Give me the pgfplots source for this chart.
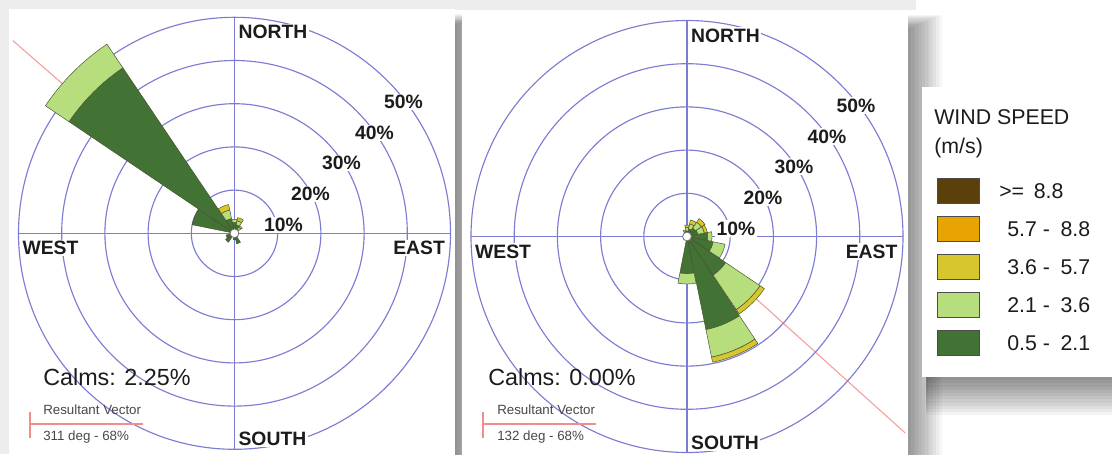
\documentclass[border=0pt]{standalone}
\usepackage{fontspec}
\setmainfont{Liberation Sans}
\usepackage{pgfplots}
\pgfplotsset{compat=1.18}
\usepgfplotslibrary{polar}
\usepackage{pgfplotstable}

\definecolor{ringblue}{RGB}{124,124,210}
\definecolor{wsA}{RGB}{66,114,52}    % 0.5 - 2.1 m/s
\definecolor{wsB}{RGB}{182,222,124}  % 2.1 - 3.6 m/s
\definecolor{wsC}{RGB}{216,198,46}   % 3.6 - 5.7 m/s
\definecolor{wsD}{RGB}{232,164,0}    % 5.7 - 8.8 m/s
\definecolor{wsE}{RGB}{92,64,12}     % >= 8.8 m/s
\definecolor{segline}{RGB}{70,80,45}
\definecolor{vecred}{RGB}{238,92,92}
\definecolor{txtdark}{RGB}{28,28,28}
\definecolor{txtgray}{RGB}{72,72,72}

% frequency of each speed class (%) per direction (degrees from north)
\pgfplotstableread{
dir    c1    c2    c3    c4   c5
0      2.5   0.8   0.0   0    0
22.5   2.0   1.0   0.7   0    0
45     1.2   0.6   0.4   0    0
157.5  2.5   0.0   0.0   0    0
180    1.5   0.0   0.0   0    0
225    2.5   0.0   0.0   0    0
247.5  2.0   0.0   0.0   0    0
292.5  10.0  0.0   0.0   0    0
315    46.2  6.6   0.0   0    0
337.5  3.5   2.0   1.3   0    0
}\roseleft

\pgfplotstableread{
dir    c1    c2    c3    c4   c5
0      1.3   0.8   0.6   0    0
22.5   1.8   1.2   0.9   0    0
45     2.4   1.6   1.0   0    0
67.5   2.6   1.5   0.7   0    0
90     4.8   1.0   0.0   0    0
112.5  6.2   2.8   0.0   0    0
135    10.8  9.6   1.2   0    0
157.5  22.0  6.5   1.2   0    0
180    8.6   2.4   0.0   0    0
337.5  1.2   0.4   0.0   0    0
}\roseright

\pgfdeclareplotmark{blank}{}

% radius of 1 % on the rose in pt (the 50 % ring has a radius of 162pt)
\newcommand\roseunit{3.24}
\newcommand\halfsector{11}

% annular sector of one speed class, drawn around the centre of the rose
\newcommand\rosesegment[1]{%
  \pgfmathsetmacro\thA{90-\segdir-\halfsector}%
  \pgfmathsetmacro\thB{90-\segdir+\halfsector}%
  \pgfmathsetmacro\rI{\seglo*\roseunit}%
  \pgfmathsetmacro\rO{\seghi*\roseunit}%
  \ifdim\dimexpr\rO pt-\rI pt\relax>0.05pt
    \ifdim\rI pt<0.05pt
      \path[fill=#1, draw=segline, line width=0.35pt, line join=round]
        (0pt,0pt) -- (\thA:\rO pt)
        arc[start angle=\thA, end angle=\thB, radius=\rO pt] -- cycle;
    \else
      \path[fill=#1, draw=segline, line width=0.35pt, line join=round]
        (\thA:\rI pt) -- (\thA:\rO pt)
        arc[start angle=\thA, end angle=\thB, radius=\rO pt]
        -- (\thB:\rI pt)
        arc[start angle=\thB, end angle=\thA, radius=\rI pt] -- cycle;
    \fi
  \fi
}

\pgfplotsset{
  rose segment/.style n args={3}{
    scatter, only marks, mark=blank,
    point meta=\thisrow{dir},
    visualization depends on={\thisrow{dir} \as \segdir},
    visualization depends on={#2 \as \seglo},
    visualization depends on={#3 \as \seghi},
    scatter/@pre marker code/.code={\rosesegment{#1}},
    scatter/@post marker code/.code={},
  },
  rose axis/.style={
    scale only axis, width=324pt, height=324pt, anchor=center,
    xmin=0, xmax=360, ymin=0, ymax=50,
    xtick={0,90,180,270}, ytick={10,20,30,40},
    xticklabels={}, yticklabels={},
    major tick length=0pt,
    xmajorgrids, ymajorgrids,
    major grid style={ringblue, line width=0.85pt},
    axis line style={ringblue, line width=0.85pt},
    clip=false,
  },
  vector/.style={vecred, line width=0.8pt, opacity=0.6,
    x filter/.expression={mod(450-x,360)}},
  calm circle/.style={only marks, mark=*, mark size=3.3pt,
    mark options={fill=white, draw=black!55, line width=0.6pt}},
}

\newcommand\allclasses[1]{%
  \addplot[rose segment={wsA}{0}{\thisrow{c1}}] table[x=dir, y expr=0] {#1};
  \addplot[rose segment={wsB}{\thisrow{c1}}{\thisrow{c1}+\thisrow{c2}}] table[x=dir, y expr=0] {#1};
  \addplot[rose segment={wsC}{\thisrow{c1}+\thisrow{c2}}{\thisrow{c1}+\thisrow{c2}+\thisrow{c3}}] table[x=dir, y expr=0] {#1};
  \addplot[rose segment={wsD}{\thisrow{c1}+\thisrow{c2}+\thisrow{c3}}{\thisrow{c1}+\thisrow{c2}+\thisrow{c3}+\thisrow{c4}}] table[x=dir, y expr=0] {#1};
  \addplot[rose segment={wsE}{\thisrow{c1}+\thisrow{c2}+\thisrow{c3}+\thisrow{c4}}{\thisrow{c1}+\thisrow{c2}+\thisrow{c3}+\thisrow{c4}+\thisrow{c5}}] table[x=dir, y expr=0] {#1};
}

% compass words and ring labels around a rose centred at (#1,#2)
\newcommand\roselabels[2]{%
  \begin{scope}[shift={(#1,#2)},
      every node/.style={fill=white, inner sep=1pt, text=txtdark,
        font=\bfseries\fontsize{14.5}{16}\selectfont}]
    \node[anchor=west] at (2.5,201) {NORTH};
    \node[anchor=west] at (2.5,-206) {SOUTH};
    \node[anchor=west] at (-213.5,-15) {WEST};
    \node[anchor=east] at (212,-15) {EAST};
    \node at (49,8) {10\%};
    \node at (76,39) {20\%};
    \node at (107,70) {30\%};
    \node at (140,100) {40\%};
    \node at (169,131) {50\%};
  \end{scope}
}

\begin{document}
\begin{tikzpicture}[x=0.75pt, y=0.75pt]
  \useasboundingbox (0,0) rectangle (1112,454);
  \clip (0,0) rectangle (1112,454);
  \fill[white] (0,0) rectangle (1112,454);
  \fill[black!7] (0,444) rectangle (916,454);
  \fill[black!7] (0,0) rectangle (9,454);

  % soft shadows of the three panels
  \foreach \k in {1,...,12}{
    \fill[black, opacity=0.045] (17,-10) rectangle (455+2.4*\k, 429+0.9*\k);
  }
  \fill[white] (9,-10) rectangle (455,445);
  \foreach \k in {1,...,12}{
    \fill[black, opacity=0.04] (470,-10) rectangle (908+2.8*\k, 425+1.2*\k);
  }
  \fill[white] (462,-10) rectangle (908,443);
  \foreach \k in {1,...,12}{
    \fill[black, opacity=0.045] (926,77-3.2*\k) rectangle (1115,355);
  }
  \fill[white] (922,77) rectangle (1115,367);

  % left station
  \begin{polaraxis}[rose axis, at={(175.875pt,165.525pt)}]
    \allclasses{\roseleft}
    \addplot[vector] coordinates {(311,0) (311,68)};
    \addplot[calm circle] coordinates {(0,0)};
  \end{polaraxis}

  % right station
  \begin{polaraxis}[rose axis, at={(515.25pt,163.125pt)}]
    \allclasses{\roseright}
    \addplot[vector] coordinates {(132,0) (132,68)};
    \addplot[calm circle] coordinates {(0,0)};
  \end{polaraxis}

  \roselabels{234.5}{220.7}
  \roselabels{687}{217.5}

  % calms and resultant vector notes
  \begin{scope}[every node/.style={anchor=west, inner sep=0pt}]
    \node[text=txtdark, font=\fontsize{17.5}{20}\selectfont] at (43,77) {Calms: 2.25\%};
    \node[text=txtdark, font=\fontsize{17.5}{20}\selectfont] at (488,77) {Calms: 0.00\%};
    \node[text=txtgray, font=\fontsize{10}{12}\selectfont] at (43,44) {Resultant Vector};
    \node[text=txtgray, font=\fontsize{10}{12}\selectfont] at (43,17) {311 deg - 68\%};
    \node[text=txtgray, font=\fontsize{10}{12}\selectfont] at (497,44) {Resultant Vector};
    \node[text=txtgray, font=\fontsize{10}{12}\selectfont] at (497,17) {132 deg - 68\%};
  \end{scope}
  \draw[vecred!70!white, line width=0.8pt] (30,42) -- (30,16) (30,30) -- (143,30);
  \draw[vecred!70!white, line width=0.8pt] (483,42) -- (483,16) (483,30) -- (596,30);

  % wind speed key
  \begin{scope}[every node/.style={anchor=west, inner sep=0pt, text=txtdark,
      font=\fontsize{16}{19}\selectfont}]
    \node at (934,337) {WIND SPEED};
    \node at (934,306) {(m/s)};
    \filldraw[fill=wsE, draw=black!70, line width=0.6pt] (937,251) rectangle (979,276);
    \filldraw[fill=wsD, draw=black!70, line width=0.6pt] (937,213) rectangle (979,238);
    \filldraw[fill=wsC, draw=black!70, line width=0.6pt] (937,175) rectangle (979,200);
    \filldraw[fill=wsB, draw=black!70, line width=0.6pt] (937,137) rectangle (979,162);
    \filldraw[fill=wsA, draw=black!70, line width=0.6pt] (937,99) rectangle (979,124);
    \node at (999,263) {>=\hspace{0.45em}8.8};
    \node at (1007,225) {5.7 -\hspace{0.5em}8.8};
    \node at (1007,187) {3.6 -\hspace{0.5em}5.7};
    \node at (1007,149) {2.1 -\hspace{0.5em}3.6};
    \node at (1007,111) {0.5 -\hspace{0.5em}2.1};
  \end{scope}
\end{tikzpicture}
\end{document}
